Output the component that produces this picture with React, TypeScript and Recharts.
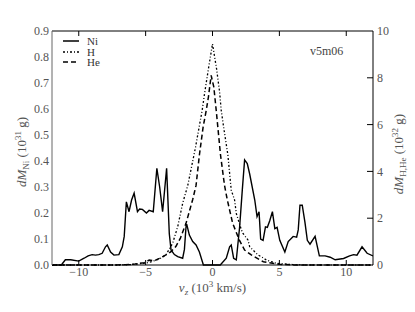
import { LineChart, Line, XAxis, YAxis, ReferenceLine } from "recharts"

// Ni mass distribution (left axis, 10^31 g)
const niV = [-12, -11.3, -11.0, -10.6, -10.0, -9.6, -9.3, -9.0, -8.75, -8.5, -8.25, -8.0, -7.87, -7.62, -7.37, -7.0, -6.74, -6.6, -6.44, -6.24, -6.05, -5.86, -5.61, -5.45, -5.24, -4.94, -4.74, -4.43, -4.16, -3.95, -3.73, -3.43, -3.23, -3.1, -2.85, -2.6, -2.23, -2.1, -1.98, -1.93, -1.73, -1.48, -1.23, -0.98, -0.68, 0.58, 1.03, 1.28, 1.4, 1.58, 1.78, 2.03, 2.23, 2.4, 2.6, 2.78, 3.16, 3.33, 3.48, 3.6, 3.78, 3.96, 4.1, 4.28, 4.48, 4.66, 4.83, 5.03, 5.41, 5.66, 6.03, 6.29, 6.41, 6.54, 6.71, 6.91, 7.09, 7.29, 7.67, 7.99, 8.42, 8.8, 9.17, 9.8, 10.25, 10.55, 10.8, 11.18, 11.56, 12]
const niY = [0, 0, 0.02, 0.02, 0.015, 0.026, 0.035, 0.04, 0.038, 0.04, 0.045, 0.07, 0.077, 0.05, 0.038, 0.04, 0.07, 0.11, 0.243, 0.205, 0.25, 0.276, 0.205, 0.215, 0.214, 0.2, 0.21, 0.205, 0.372, 0.3, 0.205, 0.372, 0.12, 0.058, 0.04, 0.032, 0.026, 0.06, 0.147, 0.157, 0.115, 0.09, 0.077, 0.05, 0, 0, 0.026, 0.07, 0.077, 0.026, 0.02, 0.147, 0.29, 0.404, 0.39, 0.35, 0.25, 0.186, 0.205, 0.1, 0.095, 0.147, 0.145, 0.17, 0.205, 0.14, 0.145, 0.095, 0.05, 0.09, 0.11, 0.107, 0.135, 0.23, 0.23, 0.165, 0.095, 0.08, 0.11, 0.035, 0.035, 0.03, 0.02, 0.025, 0.035, 0.04, 0.038, 0.07, 0.045, 0.035]

// H mass distribution (right axis, 10^32 g)
const hV = [-12, -7, -6, -4.8, -4, -3.48, -2.98, -2.6, -2.23, -1.85, -1.6, -1.28, -0.77, -0.6, -0.3, 0, 0.3, 0.53, 0.65, 0.83, 1.15, 1.4, 1.65, 1.78, 2.16, 2.28, 2.65, 2.78, 3.4, 3.8, 4.03, 4.78, 6, 7, 12]
const hY = [0, 0, 0.02, 0.1, 0.25, 0.43, 0.93, 1.64, 2.64, 3.4, 4.1, 5.0, 6.62, 7.3, 8.4, 9.45, 8.4, 7.4, 6.62, 5.9, 4.7, 3.2, 2.78, 2.2, 1.5, 1.35, 1.07, 0.78, 0.43, 0.3, 0.21, 0.07, 0.02, 0, 0]

// He mass distribution (right axis, 10^32 g)
const heV = [-12, -7.5, -6.5, -5.8, -5.1, -4.73, -4.36, -3.98, -3.48, -3.1, -2.73, -2.4, -1.98, -1.48, -1.23, -0.98, -0.7, -0.47, -0.3, -0.1, 0.1, 0.28, 0.6, 0.9, 1.1, 1.5, 2.0, 2.4, 2.9, 3.8, 5, 6, 12]
const heY = [0, 0, 0.01, 0.04, 0.1, 0.21, 0.18, 0.28, 0.43, 0.57, 0.8, 1.15, 1.78, 2.8, 3.4, 4.7, 5.9, 6.6, 7.2, 8.1, 7.6, 6.6, 4.7, 3.4, 2.8, 1.8, 1.07, 0.64, 0.43, 0.14, 0.03, 0, 0]

const xTicks = [-10, -5, 0, 5, 10]
const leftTicks = [0, 0.1, 0.2, 0.3, 0.4, 0.5, 0.6, 0.7, 0.8, 0.9]
const rightTicks = [0, 2, 4, 6, 8, 10]

const toRows = (xs: number[], ys: number[]) => xs.map((x, i) => ({ x, y: ys[i] }))

const TOP = 31
const FONT = "'Liberation Serif', 'DejaVu Serif', serif"
const GRAY = "#555"

const minus = (v: number) => (v < 0 ? "\u2212" + Math.abs(v) : String(v))

const XTick = ({ x, y, payload }: any) => (
    <g>
        <line x1={x} x2={x} y1={y} y2={y - 5} stroke="#000" />
        <line x1={x} x2={x} y1={TOP} y2={TOP + 5} stroke="#000" />
        <text x={x} y={y + 11} textAnchor="middle" fill={GRAY} fontSize={12} fontFamily={FONT}>{minus(payload.value)}</text>
    </g>
)

const LeftTick = ({ x, y, payload }: any) => (
    <text x={x - 3} y={y} dy="0.35em" textAnchor="end" fill={GRAY} fontSize={12} fontFamily={FONT}>{payload.value.toFixed(1)}</text>
)

const RightTick = ({ x, y, payload }: any) => (
    <g>
        {payload.value > 0 && payload.value < 10 && <line x1={x} x2={x - 6} y1={y} y2={y} stroke="#000" />}
        <text x={x + 4} y={y} dy="0.35em" textAnchor="start" fill={GRAY} fontSize={12} fontFamily={FONT}>{payload.value}</text>
    </g>
)

const LeftLabel = ({ viewBox }: any) => {
    const cx = 26
    const cy = viewBox.y + viewBox.height / 2 + 4
    return (
        <text transform={`rotate(-90 ${cx} ${cy})`} x={cx} y={cy} textAnchor="middle" fill={GRAY} fontSize={13} fontFamily={FONT}>
            <tspan fontStyle="italic">dM</tspan>
            <tspan fontSize={9} dy={3}>Ni</tspan>
            <tspan dy={-3}> (10</tspan>
            <tspan fontSize={9} dy={-5}>31</tspan>
            <tspan dy={5}> g)</tspan>
        </text>
    )
}

const RightLabel = ({ viewBox }: any) => {
    const cx = 403
    const cy = viewBox.y + viewBox.height / 2 + 6
    return (
        <text transform={`rotate(-90 ${cx} ${cy})`} x={cx} y={cy} textAnchor="middle" fill={GRAY} fontSize={13} fontFamily={FONT}>
            <tspan fontStyle="italic">dM</tspan>
            <tspan fontSize={9} dy={3}>H,He</tspan>
            <tspan dy={-3}> (10</tspan>
            <tspan fontSize={9} dy={-5}>32</tspan>
            <tspan dy={5}> g)</tspan>
        </text>
    )
}

const XLabel = ({ viewBox }: any) => {
    const cx = viewBox.x + viewBox.width / 2
    const cy = 292
    return (
        <text x={cx} y={cy} textAnchor="middle" fill={GRAY} fontSize={13} fontFamily={FONT}>
            <tspan fontStyle="italic">v</tspan>
            <tspan fontSize={9} dy={3} fontStyle="italic">z</tspan>
            <tspan dy={-3}> (10</tspan>
            <tspan fontSize={9} dy={-5}>3</tspan>
            <tspan dy={5}> km/s)</tspan>
        </text>
    )
}

const legendItems = [
    { name: "Ni", dash: undefined, width: 1.5 },
    { name: "H", dash: "2 2 1 2", width: 1.3 },
    { name: "He", dash: "5 3", width: 1.5 },
]

const App = () => {
    return (
        <div style={{ position: "absolute", left: 0, top: 0, width: 415, height: 312, background: "#fff" }}>
            <LineChart width={415} height={312} margin={{ top: TOP, right: 0, bottom: 0, left: 0 }}>
                <XAxis type="number" dataKey="x" domain={[-12, 12]} ticks={xTicks} allowDataOverflow
                    height={47} tickSize={0} tickMargin={0} tickLine={false} tick={<XTick />}
                    axisLine={{ stroke: "#000" }} label={{ content: XLabel }} />
                <YAxis yAxisId="ni" domain={[0, 0.9]} ticks={leftTicks} width={52} tickSize={0} tickMargin={0}
                    tickLine={false} tick={<LeftTick />} axisLine={{ stroke: "#666" }} label={{ content: LeftLabel }} />
                <YAxis yAxisId="hhe" orientation="right" domain={[0, 10]} ticks={rightTicks} width={42} tickSize={0}
                    tickMargin={0} tickLine={false} tick={<RightTick />} axisLine={{ stroke: "#000" }} label={{ content: RightLabel }} />
                <ReferenceLine yAxisId="hhe" y={10} stroke="#000" ifOverflow="extendDomain" />
                <Line yAxisId="hhe" data={toRows(hV, hY)} dataKey="y" type="linear" stroke="#000" strokeWidth={1.3}
                    strokeDasharray="2 2 1 2" dot={false} isAnimationActive={false} />
                <Line yAxisId="hhe" data={toRows(heV, heY)} dataKey="y" type="linear" stroke="#000" strokeWidth={1.5}
                    strokeDasharray="5 3" dot={false} isAnimationActive={false} />
                <Line yAxisId="ni" data={toRows(niV, niY)} dataKey="y" type="linear" stroke="#000" strokeWidth={1.4}
                    dot={false} isAnimationActive={false} />
            </LineChart>
            <div style={{ position: "absolute", left: 62, top: 36, fontFamily: FONT, fontSize: 11, color: "#333" }}>
                {legendItems.map((it) => (
                    <div key={it.name} style={{ display: "flex", alignItems: "center", height: 10.5 }}>
                        <svg width={18} height={6}>
                            <line x1={1} x2={17} y1={3} y2={3} stroke="#000" strokeWidth={it.width} strokeDasharray={it.dash} />
                        </svg>
                        <span style={{ marginLeft: 7 }}>{it.name}</span>
                    </div>
                ))}
            </div>
            <div style={{ position: "absolute", left: 310, top: 44, fontFamily: FONT, fontSize: 12, color: "#444" }}>v5m06</div>
        </div>
    )
}

export default App
